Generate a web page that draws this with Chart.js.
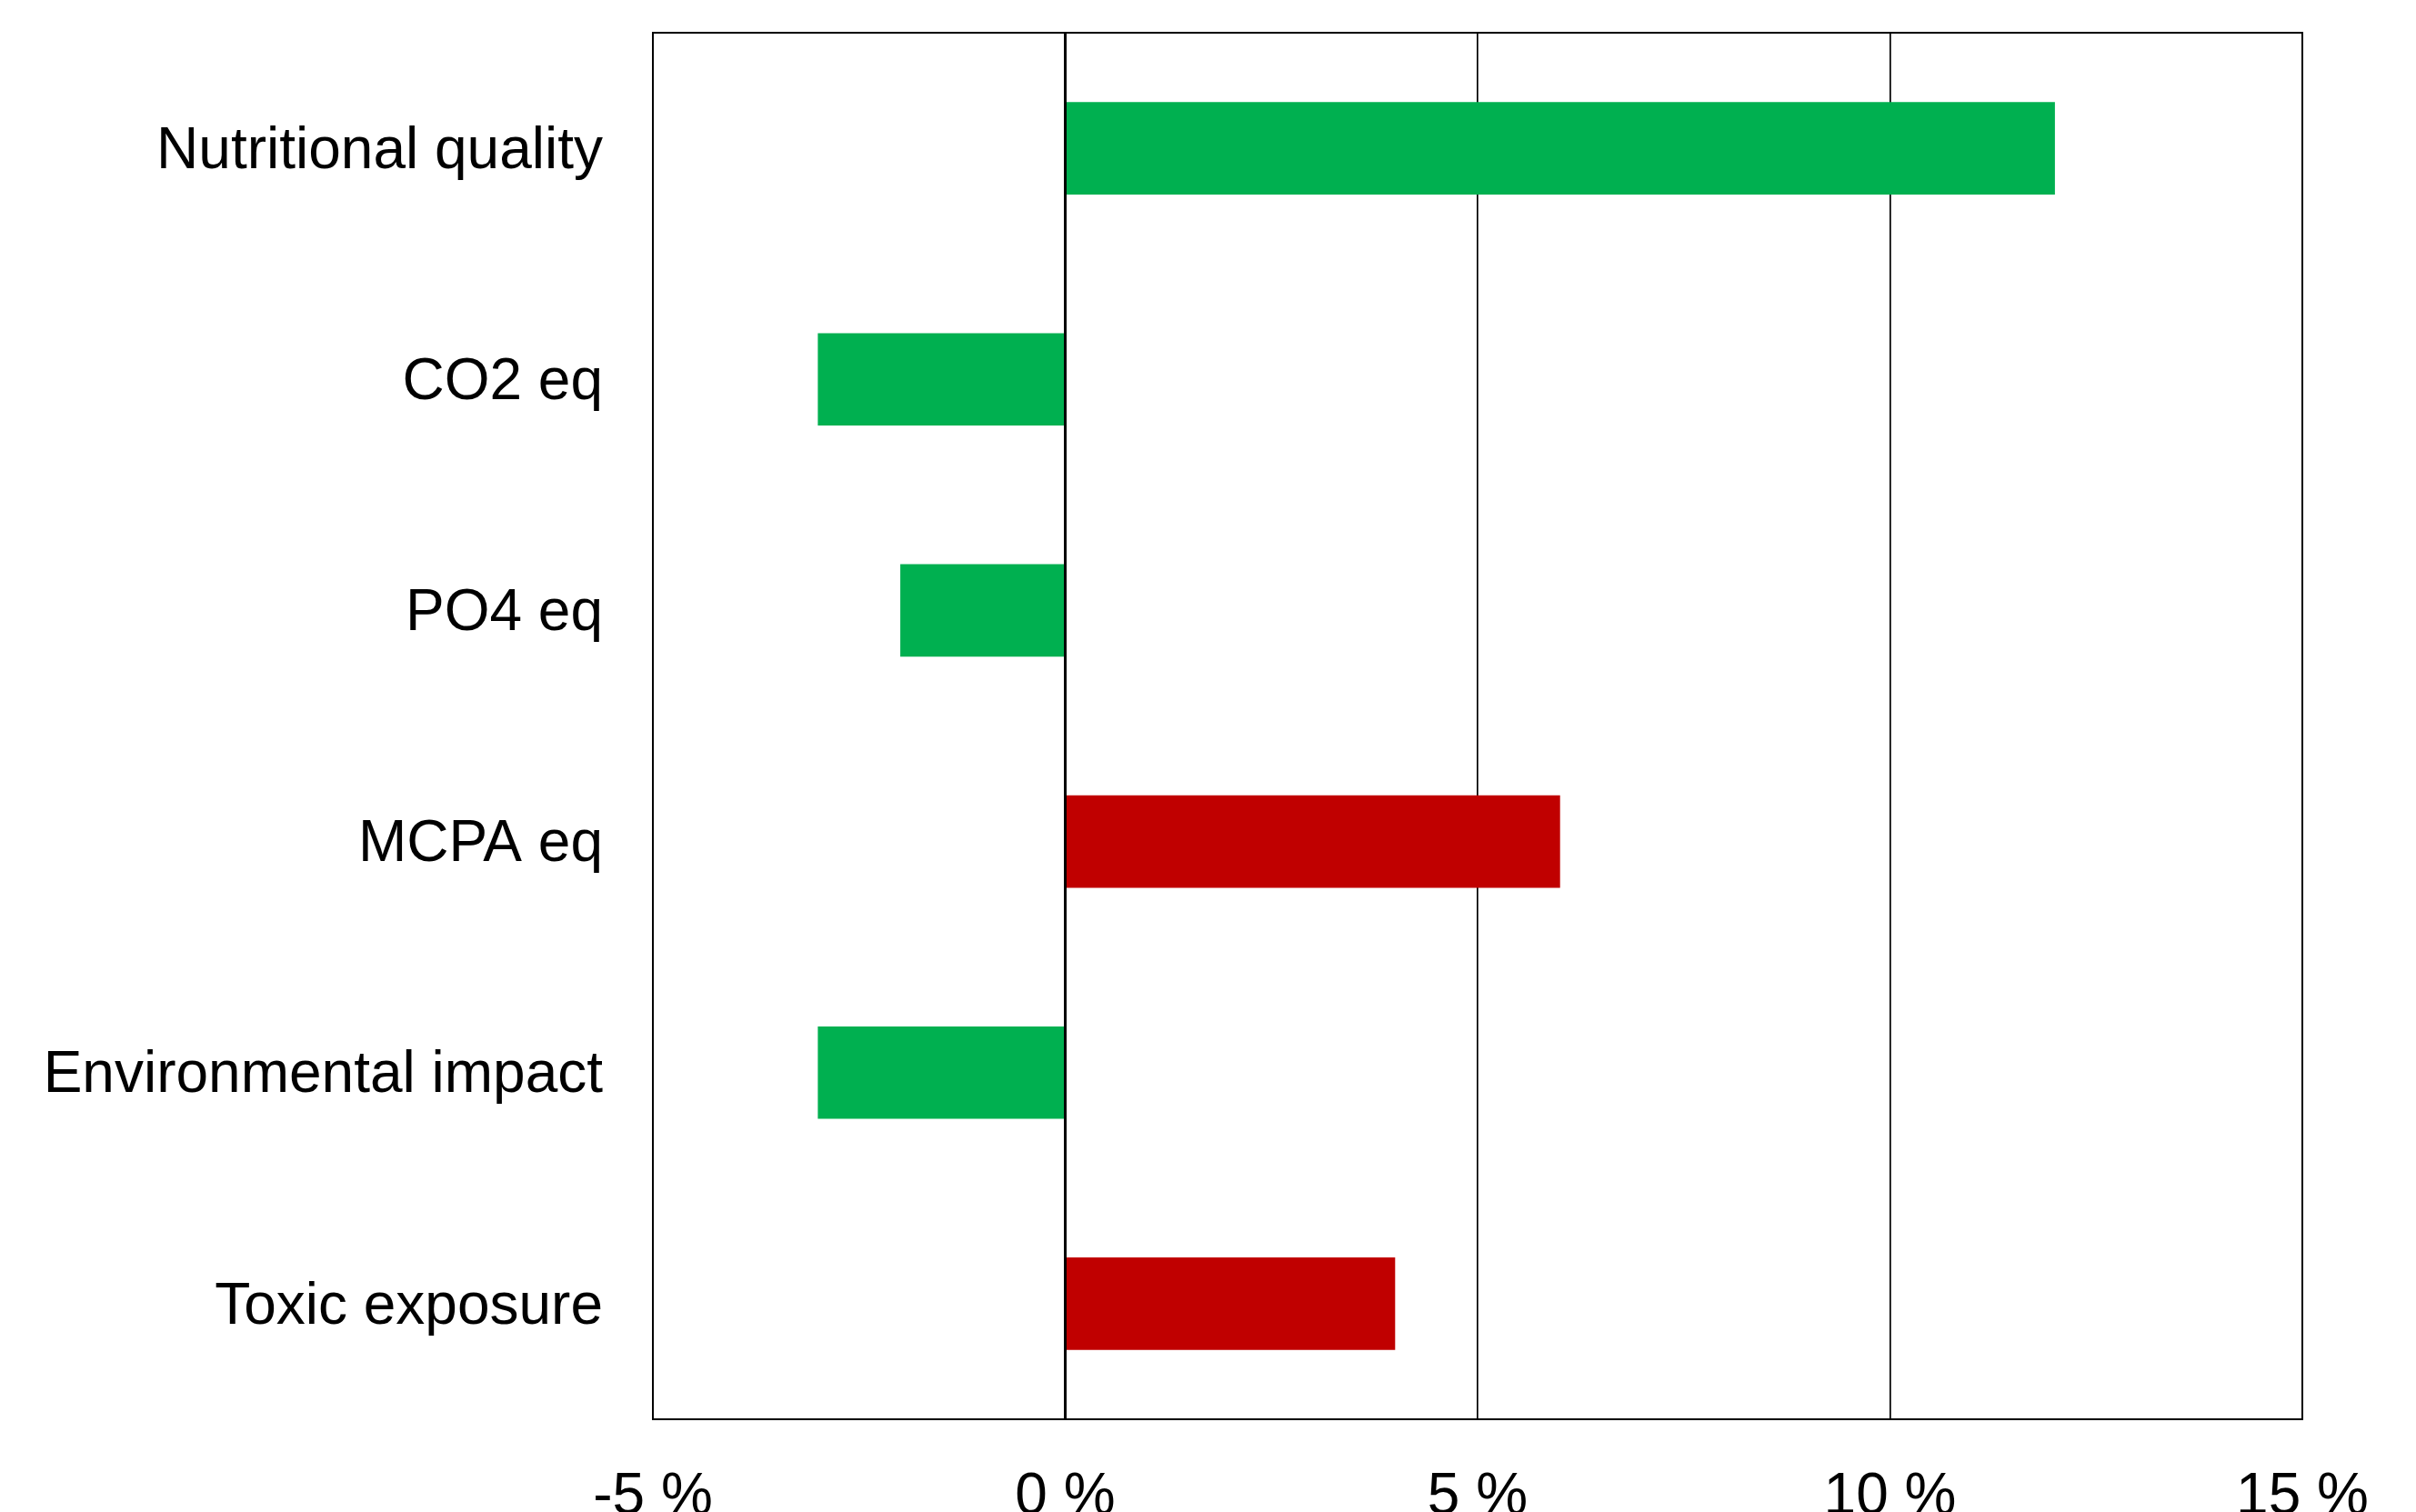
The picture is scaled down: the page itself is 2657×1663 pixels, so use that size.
<!DOCTYPE html>
<html>
<head>
<meta charset="utf-8">
<script src="https://cdn.jsdelivr.net/npm/chart.js@4"></script>
<style>
  body { margin: 0; background: #fff; }
  #wrap { width: 2657px; height: 1663px; }
</style>
</head>
<body>
<div id="wrap"><canvas id="chart"></canvas></div>
<script>
// categories and values (percent)
const categories = ['Nutritional quality', 'CO2 eq', 'PO4 eq', 'MCPA eq', 'Environmental impact', 'Toxic exposure'];
const changes = [12, -3, -2, 6, -3, 4];
const xTicks = [-5, 0, 5, 10, 15];

// colours of the bars, in the same order
const barColors = ['#00B050', '#00B050', '#00B050', '#C00000', '#00B050', '#C00000'];

// frame around the plot and zero line on top of the bars
const framePlugin = {
  id: 'frame',
  afterDatasetsDraw(chart) {
    const a = chart.chartArea;
    const ctx = chart.ctx;
    const x0 = chart.scales.x.getPixelForValue(0);
    ctx.save();
    ctx.strokeStyle = '#000';
    ctx.lineWidth = 3;
    ctx.beginPath();
    ctx.moveTo(x0, a.top);
    ctx.lineTo(x0, a.bottom);
    ctx.stroke();
    ctx.lineWidth = 2;
    ctx.strokeRect(a.left, a.top, a.right - a.left, a.bottom - a.top);
    ctx.restore();
  }
};

const ctx = document.getElementById('chart').getContext('2d');
const chart = new Chart(ctx, {
  type: 'bar',
  data: {
    labels: categories,
    datasets: [{
      data: changes,
      backgroundColor: barColors,
      borderWidth: 0,
      barPercentage: 0.4,
      categoryPercentage: 1
    }]
  },
  options: {
    indexAxis: 'y',
    responsive: true,
    maintainAspectRatio: false,
    animation: false,
    devicePixelRatio: 1,
    layout: { padding: { top: 36, right: 125, left: 0, bottom: 0 } },
    plugins: {
      legend: { display: false },
      tooltip: { enabled: false }
    },
    scales: {
      x: {
        min: -5,
        max: 15,
        afterBuildTicks(scale) {
          scale.ticks = xTicks.map(v => ({ value: v }));
        },
        afterFit(scale) {
          scale.height = 102;
          scale.paddingLeft = 0;
          scale.paddingRight = 0;
        },
        grid: { color: '#000', lineWidth: 1.7, drawTicks: false },
        border: { display: false },
        ticks: {
          padding: 48,
          color: '#000',
          font: { family: 'Liberation Sans, Arial, sans-serif', size: 64 },
          callback: v => v + ' %',
          maxRotation: 0,
          autoSkip: false
        }
      },
      y: {
        afterFit(scale) {
          scale.width = 718;
          scale.paddingTop = 0;
          scale.paddingBottom = 0;
        },
        grid: { display: false, drawTicks: false },
        border: { display: false },
        ticks: {
          padding: 55,
          labelOffset: 4,
          color: '#000',
          font: { family: 'Liberation Sans, Arial, sans-serif', size: 64 }
        }
      }
    }
  },
  plugins: [framePlugin]
});
</script>
</body>
</html>
